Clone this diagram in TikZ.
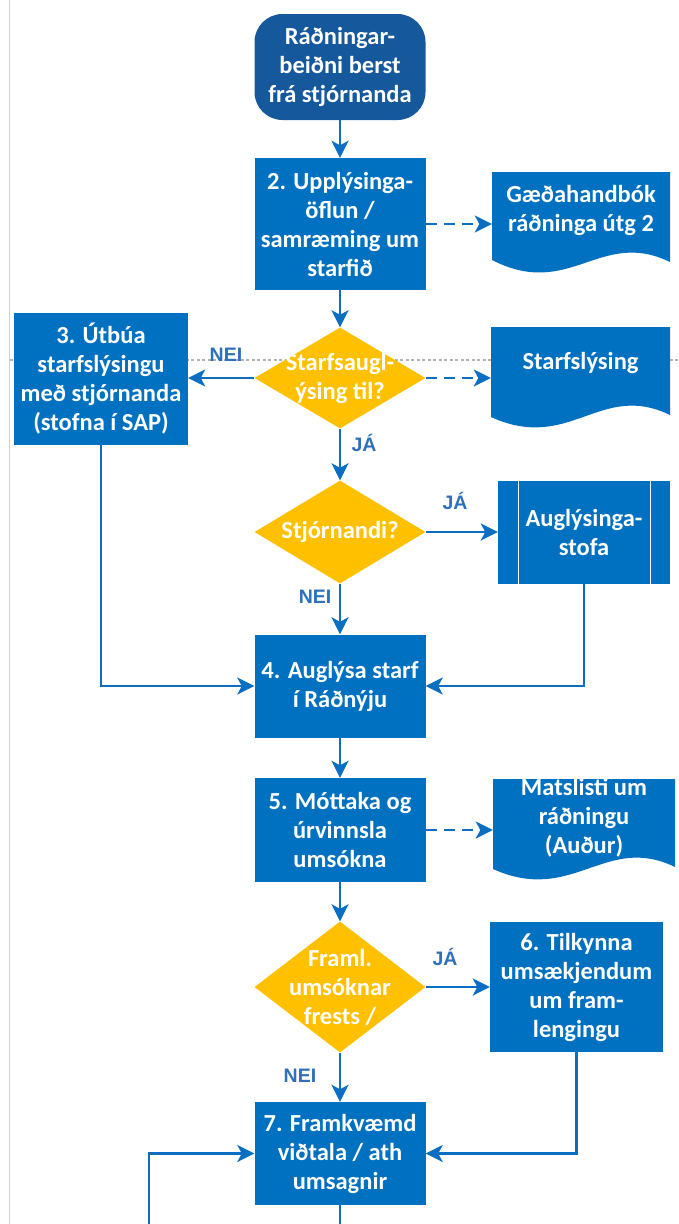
\documentclass[tikz,border=0pt]{standalone}
\usepackage{fontspec}
\setmainfont{Carlito}
\newfontfamily\labfont{Liberation Sans}
\usetikzlibrary{shapes.geometric,arrows.meta}
\definecolor{boxblue}{HTML}{0070C0}
\definecolor{startblue}{HTML}{15589C}
\definecolor{lineblue}{HTML}{0A6FC2}
\definecolor{labblue}{HTML}{2E70BA}
\definecolor{decyellow}{HTML}{FFC000}
\begin{document}
\begin{tikzpicture}[x=1pt,y=-1pt,
  boxfont/.style={font=\fontsize{24.5}{29}\selectfont\bfseries},
  procbox/.style={rectangle, fill=boxblue, text=white, align=center, boxfont, inner sep=0pt, minimum width=171pt},
  startbox/.style={procbox, fill=startblue, rounded corners=28pt},
  decbox/.style={diamond, fill=decyellow, inner sep=0pt, minimum width=171pt},
  dectext/.style={text=white, align=center, boxfont, inner sep=0pt},
  doctext/.style={text=white, align=center, boxfont, inner sep=0pt},
  lab/.style={text=labblue, font=\labfont\fontsize{19.5}{21}\selectfont\bfseries, inner sep=0pt},
  conn/.style={draw=lineblue, line width=2.8pt, -{Stealth[length=17pt,width=17pt,inset=4.5pt]}},
  dashconn/.style={conn, dash pattern=on 11pt off 7pt},
  plainconn/.style={draw=lineblue, line width=2.8pt}
]
\useasboundingbox (0,0) rectangle (679,1224);
% background guide lines
\draw[gray!35, line width=1.5pt] (9.5,0) -- (9.5,1224);
\draw[gray!60, line width=1.5pt, dash pattern=on 3pt off 2.5pt] (9.5,360) -- (679,360);

% document shapes
\fill[boxblue] (492,172) -- (670,172) -- (670,262) .. controls (600,228) and (570,300) .. (492,260) -- cycle;
\fill[boxblue] (491,327) -- (670,327) -- (670,415) .. controls (600,381) and (570,453) .. (491,417) -- cycle;
\fill[boxblue] (493,779) -- (675,779) -- (675,867) .. controls (605,833) and (573,905) .. (493,869) -- cycle;

% nodes
\node[startbox, minimum height=106pt] (start) at (340,67) {Ráðningar-\\beiðni berst\\frá stjórnanda};
\node[procbox, minimum height=132pt] (b2) at (340,224) {2. Upplýsinga-\\öflun /\\samræming um\\starfið};
\node[doctext, minimum width=178pt] (d1) at (581,210) {Gæðahandbók\\ráðninga útg 2};
\node[procbox, minimum width=174pt, minimum height=132pt] (b3) at (101,379) {3. Útbúa\\starfslýsingu\\með stjórnanda\\(stofna í SAP)};
\node[decbox, minimum height=101pt, label={[dectext]center:{Starfsaugl-\\ýsing til?}}] (q1) at (340,378) {};
\node[doctext, minimum width=179pt] (d2) at (580.5,363) {Starfslýsing};
\node[decbox, minimum height=103pt, label={[dectext]center:{Stjórnandi?}}] (q2) at (340,532) {};
\node[procbox, minimum width=172pt, minimum height=103pt] (agl) at (584,532) {Auglýsinga-\\stofa};
\draw[white, line width=1pt] ([xshift=21pt]agl.north west) -- ([xshift=21pt]agl.south west);
\draw[white, line width=1pt] ([xshift=-20pt]agl.north east) -- ([xshift=-20pt]agl.south east);
\node[procbox, minimum height=103pt] (b4) at (340,686) {4. Auglýsa starf\\í Ráðnýju};
\node[procbox, minimum height=104pt] (b5) at (340,830) {5. Móttaka og\\úrvinnsla\\umsókna};
\node[doctext, minimum width=182pt] (d3) at (584,818) {Matslisti um\\ráðningu\\(Auður)};
\node[decbox, minimum height=131pt, label={[dectext]center:{Framl.\\umsóknar\\frests /}}] (q3) at (340,987) {};
\node[procbox, minimum width=173pt, minimum height=130pt] (b6) at (576.5,987) {6. Tilkynna\\umsækjendum\\um fram-\\lengingu};
\node[procbox, minimum height=103pt] (b7) at (340,1153.5) {7. Framkvæmd\\viðtala / ath\\umsagnir};
\coordinate (lb) at (149,1224);
\coordinate (bot) at (340,1224);

% labels
\node[lab] (l1) at (226,355) {NEI};
\node[lab] (l2) at (364,443) {JÁ};
\node[lab] (l3) at (455,501) {JÁ};
\node[lab] (l4) at (315,597) {NEI};
\node[lab] (l5) at (445,957) {JÁ};
\node[lab] (l6) at (300,1076) {NEI};

% connectors
\draw[conn] (start.south) -- (b2.north);
\draw[dashconn] (b2.east) -- (b2.east -| d1.west);
\draw[conn] (b2.south) -- (q1.north);
\draw[conn] (q1.west) -- (q1.west -| b3.east);
\draw[dashconn] (q1.east) -- (q1.east -| d2.west);
\draw[conn] (q1.south) -- (q2.north);
\draw[conn] (q2.east) -- (agl.west);
\draw[conn] (q2.south) -- (b4.north);
\draw[conn] (b3.south) |- (b4.west);
\draw[conn] (agl.south) |- (b4.east);
\draw[conn] (b4.south) -- (b5.north);
\draw[dashconn] (b5.east) -- (b5.east -| d3.west);
\draw[conn] (b5.south) -- (q3.north);
\draw[conn] (q3.east) -- (b6.west);
\draw[conn] (q3.south) -- (b7.north);
\draw[conn] (b6.south) |- (b7.east);
\draw[conn] (lb) |- (b7.west);
\draw[plainconn] (b7.south) -- (bot);
\end{tikzpicture}
\end{document}
